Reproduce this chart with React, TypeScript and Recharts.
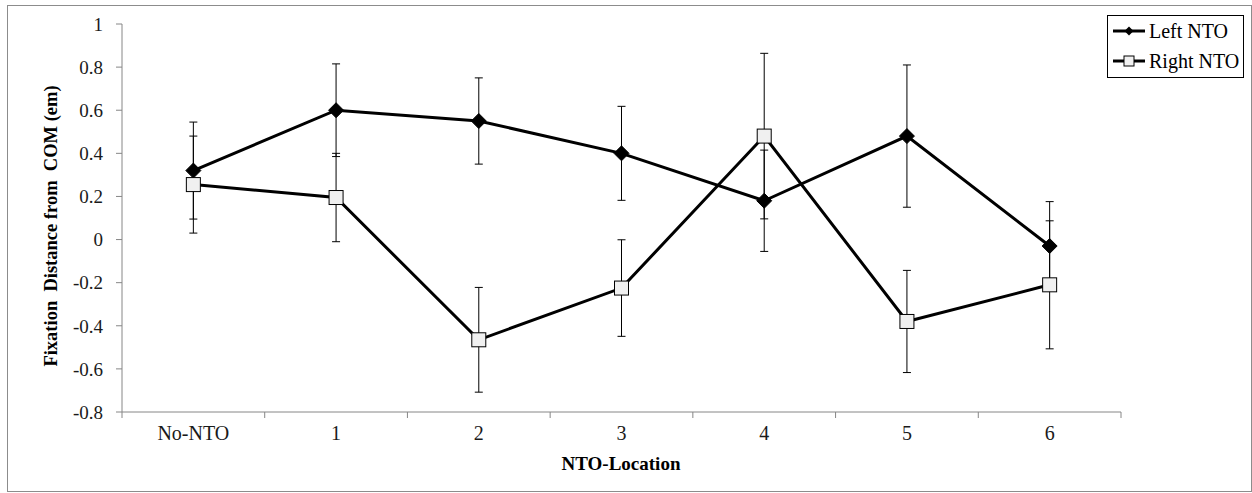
import React from 'react';
import { LineChart, Line, XAxis, YAxis, ErrorBar, Legend } from 'recharts';

const categories = ['No-NTO', '1', '2', '3', '4', '5', '6'];
const leftValues = [0.32, 0.6, 0.55, 0.4, 0.18, 0.48, -0.03];
const leftErrors = [0.225, 0.215, 0.2, 0.218, 0.235, 0.33, 0.206];
const rightValues = [0.255, 0.195, -0.465, -0.225, 0.48, -0.38, -0.21];
const rightErrors = [0.225, 0.205, 0.243, 0.224, 0.384, 0.237, 0.297];
const yTicks = [-0.8, -0.6, -0.4, -0.2, 0, 0.2, 0.4, 0.6, 0.8, 1];
const seriesNames = ['Left NTO', 'Right NTO'];
const xTitle = 'NTO-Location';
const yTitle = 'Fixation  Distance from  COM (em)';

const data = categories.map((c, i) => ({
  idx: i,
  name: c,
  left: leftValues[i],
  leftErr: leftErrors[i],
  right: rightValues[i],
  rightErr: rightErrors[i],
}));

// half-step ticks: integers get labels, halves get boundary tick marks
const xTicks: number[] = [];
for (let i = 0; i <= categories.length * 2; i++) xTicks.push(-0.5 + i * 0.5);

const FONT = "Liberation Serif";
const AXIS = '#868686';
const TXT = '#1a1a1a';

const XTick = (props: any) => {
  const { x, y, payload } = props;
  const v = payload.value;
  if (Math.abs(v - Math.round(v)) < 1e-6) {
    return (
      <text x={x} y={y + 28} textAnchor="middle" style={{ fontFamily: FONT, fontSize: 20, fill: TXT }}>
        {categories[Math.round(v)]}
      </text>
    );
  }
  return <line x1={x} x2={x} y1={y} y2={y + 6} stroke={AXIS} strokeWidth={1} />;
};

const YTick = (props: any) => {
  const { x, y, payload } = props;
  return (
    <text x={x} y={y} dy="0.355em" textAnchor="end" style={{ fontFamily: FONT, fontSize: 19, fill: TXT }}>
      {String(Number(Number(payload.value).toFixed(1)))}
    </text>
  );
};

const Diamond = (props: any) => {
  const { cx, cy } = props;
  if (cx == null || cy == null) return <g key={props.key} />;
  const r = 7.5;
  return (
    <polygon
      key={props.key}
      points={`${cx},${cy - r} ${cx + r},${cy} ${cx},${cy + r} ${cx - r},${cy}`}
      fill="#000"
      stroke="#000"
      strokeWidth={1}
    />
  );
};

const Square = (props: any) => {
  const { cx, cy } = props;
  if (cx == null || cy == null) return <g key={props.key} />;
  const s = 14;
  return (
    <rect key={props.key} x={cx - s / 2} y={cy - s / 2} width={s} height={s} fill="#f0f0f0" stroke="#000" strokeWidth={1} />
  );
};

const LegendBox = () => (
  <svg width={137} height={63} style={{ display: 'block' }}>
    <rect x={0.5} y={0.5} width={136} height={62} fill="#fff" stroke="#000" strokeWidth={1} />
    <line x1={6} x2={38} y1={16} y2={16} stroke="#000" strokeWidth={3} />
    <polygon points="22,11.5 26.5,16 22,20.5 17.5,16" fill="#000" />
    <text x={42} y={23} style={{ fontFamily: FONT, fontSize: 20, fill: '#000' }}>{seriesNames[0]}</text>
    <line x1={6} x2={38} y1={46} y2={46} stroke="#000" strokeWidth={3} />
    <rect x={17} y={41} width={10} height={10} fill="#f0f0f0" stroke="#000" strokeWidth={1} />
    <text x={42} y={53} style={{ fontFamily: FONT, fontSize: 20, fill: '#000' }}>{seriesNames[1]}</text>
  </svg>
);

export default function App() {
  return (
    <div style={{ position: 'absolute', left: 0, top: 0, width: 1252, height: 493, background: '#fff' }}>
      <div
        style={{
          position: 'absolute',
          left: 7,
          top: 5,
          width: 1245,
          height: 487,
          boxSizing: 'border-box',
          border: '1px solid #8c8c8c',
        }}
      />
      <div style={{ position: 'absolute', left: 0, top: 0 }}>
        <LineChart width={1252} height={493} data={data} margin={{ top: 24, right: 131, bottom: 0, left: 0 }}>
          <XAxis
            dataKey="idx"
            type="number"
            domain={[-0.5, 6.5]}
            ticks={xTicks}
            interval={0}
            height={81}
            stroke={AXIS}
            tickLine={false}
            tickSize={0}
            tickMargin={0}
            tick={<XTick />}
            label={() => (
              <text x={621} y={470} textAnchor="middle" style={{ fontFamily: FONT, fontSize: 19, fontWeight: 'bold', fill: '#000' }}>
                {xTitle}
              </text>
            )}
          />
          <YAxis
            type="number"
            domain={[-0.8, 1]}
            ticks={yTicks}
            interval={0}
            width={122}
            stroke={AXIS}
            tickSize={6}
            tickMargin={13}
            tick={<YTick />}
            label={() => (
              <text
                x={57}
                y={226}
                transform="rotate(-90, 57, 226)"
                textAnchor="middle"
                style={{ fontFamily: FONT, fontSize: 18.5, fontWeight: 'bold', fill: '#000', whiteSpace: 'pre' }}
              >
                {yTitle}
              </text>
            )}
          />
          <Legend
            layout="horizontal"
            verticalAlign="middle"
            align="center"
            content={() => <LegendBox />}
            wrapperStyle={{ position: 'absolute', left: 1107, top: 15, width: 137, height: 63 }}
          />
          <Line
            type="linear"
            dataKey="left"
            name={seriesNames[0]}
            stroke="#000"
            strokeWidth={3}
            dot={(p: any) => <Diamond {...p} key={p.key} />}
            activeDot={false}
            isAnimationActive={false}
          >
            <ErrorBar dataKey="leftErr" direction="y" width={4} stroke="#000" strokeWidth={1} />
          </Line>
          <Line
            type="linear"
            dataKey="right"
            name={seriesNames[1]}
            stroke="#000"
            strokeWidth={3}
            dot={(p: any) => <Square {...p} key={p.key} />}
            activeDot={false}
            isAnimationActive={false}
          >
            <ErrorBar dataKey="rightErr" direction="y" width={4} stroke="#000" strokeWidth={1} />
          </Line>
        </LineChart>
      </div>
    </div>
  );
}
